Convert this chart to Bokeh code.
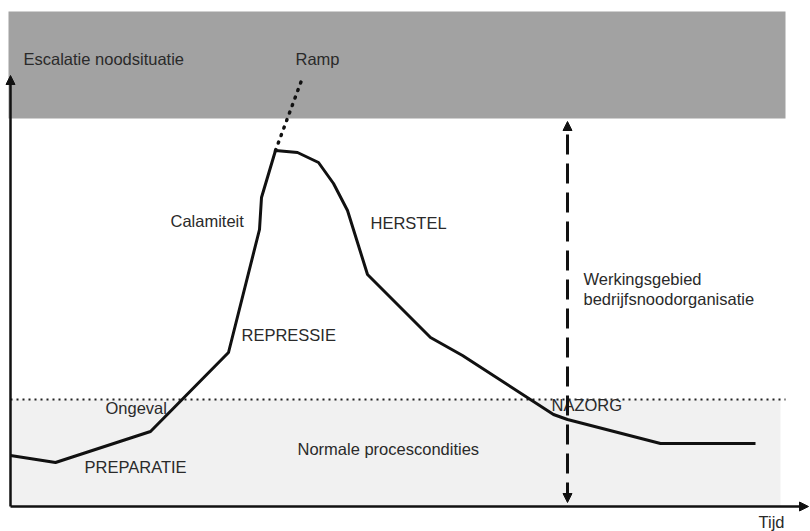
from bokeh.plotting import figure
from bokeh.models import Range1d, Arrow, NormalHead, ColumnDataSource
from bokeh.core.properties import value
from bokeh.embed import file_html
from bokeh.resources import INLINE

# Escalation curve (time, escalation level), origin at the axes
time = [0, 45, 140, 218, 249, 251, 265, 287, 308, 323, 337, 357, 420, 452, 543, 557, 650, 745]
level = [51, 44, 75, 154, 277, 309, 356, 354, 344, 323, 296, 232, 169, 151, 92, 87, 63, 63]

# Dotted "Ramp" extension beyond the peak
ramp_time = [265, 291]
ramp_level = [356, 426]

# Zones
normal_limit = 107        # escalation level of the dotted line (normal conditions)
disaster_bottom = 388     # lower edge of the dark zone
disaster_top = 495
zone_end = 775
boundary_time = 557       # vertical dashed line (werkingsgebied)

labels = ["Escalatie noodsituatie", "Ramp", "Calamiteit", "HERSTEL", "REPRESSIE",
          "Werkingsgebied", "bedrijfsnoodorganisatie", "Ongeval", "NAZORG",
          "PREPARATIE", "Normale procescondities", "Tijd"]
label_x = [13, 285, 160, 360, 231, 573, 573, 95, 541, 74, 287, 748]
label_y = [448, 448, 286, 284, 172, 228, 208, 99, 102, 40, 58, -15]

FONT = "Liberation Sans"

p = figure(width=810, height=531, output_backend="svg", toolbar_location=None,
           x_range=Range1d(-10, 800), y_range=Range1d(-25, 506),
           min_border=0, x_axis_type=None, y_axis_type=None)
p.grid.visible = False
p.outline_line_color = None
p.background_fill_color = "white"
p.border_fill_color = "white"

# Zones
p.quad(left=[-2], right=[zone_end], bottom=[disaster_bottom], top=[disaster_top],
       fill_color="#a2a2a2", line_color=None)
p.quad(left=[0], right=[zone_end - 5], bottom=[0], top=[normal_limit],
       fill_color="#f1f1f1", line_color=None)

# Dotted normal-conditions line
p.line([0, zone_end], [normal_limit, normal_limit], line_color="#222222",
       line_width=2, line_dash="2 4")

# Curve
p.line(time, level, line_color="#111111", line_width=3, line_join="round")
p.line(ramp_time, ramp_level, line_color="#111111", line_width=3.5,
       line_dash="1 7", line_cap="round")

# Axes with arrows
p.add_layout(Arrow(end=NormalHead(size=9, fill_color="#111111", line_color="#111111"),
                   x_start=0, y_start=0, x_end=0, y_end=431,
                   line_width=2.5, line_color="#111111"))
p.add_layout(Arrow(end=NormalHead(size=9, fill_color="#111111", line_color="#111111"),
                   x_start=0, y_start=0, x_end=798, y_end=0,
                   line_width=2.5, line_color="#111111"))

# Vertical dashed double arrow
p.add_layout(Arrow(start=NormalHead(size=9, fill_color="#111111", line_color="#111111"),
                   end=NormalHead(size=9, fill_color="#111111", line_color="#111111"),
                   x_start=boundary_time, y_start=4, x_end=boundary_time, y_end=385,
                   line_width=3, line_color="#111111", line_dash="20 9"))

src = ColumnDataSource(dict(x=label_x, y=label_y, t=labels))
p.text(x="x", y="y", text="t", source=src, text_font=value(FONT),
       text_font_size="16.5px", text_color="#2a2a2a",
       text_align="left", text_baseline="middle")

open("out.html", "w").write(file_html(p, INLINE))
